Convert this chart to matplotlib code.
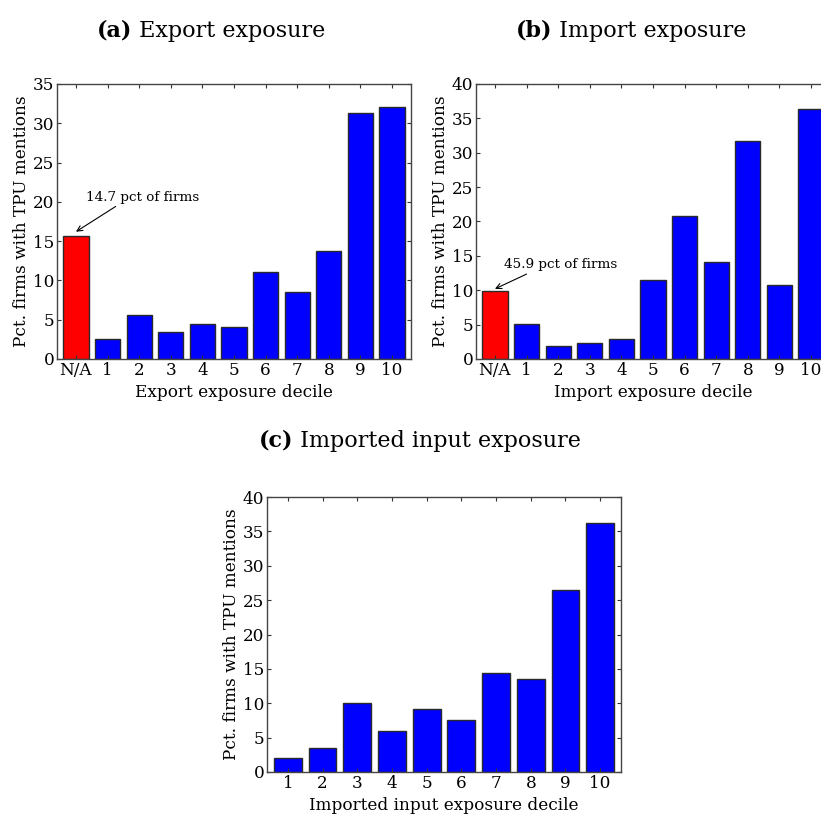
import numpy as np
import matplotlib
matplotlib.use('Agg')
import matplotlib.pyplot as plt

plt.rcParams['font.family'] = ['DejaVu Serif']

# panel (a) export exposure, first bar = N/A
exp_labels = ['N/A', '1', '2', '3', '4', '5', '6', '7', '8', '9', '10']
exp_vals = [15.7, 2.6, 5.6, 3.4, 4.4, 4.1, 11.1, 8.5, 13.7, 31.3, 32.1]

# panel (b) import exposure
imp_labels = ['N/A', '1', '2', '3', '4', '5', '6', '7', '8', '9', '10']
imp_vals = [9.85, 5.1, 1.9, 2.35, 2.85, 11.55, 20.8, 14.1, 31.7, 10.8, 36.3]

# panel (c) imported input exposure
inp_labels = ['1', '2', '3', '4', '5', '6', '7', '8', '9', '10']
inp_vals = [2.1, 3.45, 10.05, 5.9, 9.1, 7.5, 14.45, 13.6, 26.5, 36.15]

ylab = 'Pct. firms with TPU mentions'
fs = 12.2


def bar_panel(ax, labels, vals, first_red, xlabel, ymax, x0=0):
    x = np.arange(len(vals)) + x0
    cols = ['blue'] * len(vals)
    if first_red:
        cols[0] = 'red'
    ax.bar(x, vals, width=0.8, color=cols, edgecolor='#2a2a2a', linewidth=1.0)
    ax.set_xlim(x[0] - 0.6, x[-1] + 0.6)
    ax.set_ylim(0, ymax)
    ax.set_xticks(x)
    ax.set_xticklabels(labels, fontsize=fs)
    ax.set_yticks(np.arange(0, ymax + 1, 5))
    ax.tick_params(axis='y', labelsize=fs, pad=2)
    ax.tick_params(direction='in', top=True, right=True, length=3, width=0.8, color='#333333')
    ax.tick_params(axis='x', pad=2)
    ax.set_xlabel(xlabel, fontsize=fs, labelpad=4)
    ax.set_ylabel(ylab, fontsize=fs, labelpad=2)
    for s in ax.spines.values():
        s.set_color('#444444')
        s.set_linewidth(1.0)


fig = plt.figure(figsize=(8.21, 8.14), dpi=100)

w = 354 / 821
h = 275 / 814
ax1 = fig.add_axes([57 / 821, 1 - 359 / 814, w, h])
ax2 = fig.add_axes([476 / 821, 1 - 359 / 814, w, h])
ax3 = fig.add_axes([267 / 821, 1 - 772 / 814, w, h])

bar_panel(ax1, exp_labels, exp_vals, True, 'Export exposure decile', 35)
bar_panel(ax2, imp_labels, imp_vals, True, 'Import exposure decile', 40)
bar_panel(ax3, inp_labels, inp_vals, False, 'Imported input exposure decile', 40, x0=1)

ax1.annotate('14.7 pct of firms', xy=(0, 16.2), xytext=(0.32, 20.6),
             fontsize=9.7, va='center', ha='left',
             arrowprops=dict(arrowstyle='->', color='black', lw=0.8,
                             shrinkA=0, shrinkB=0, relpos=(0.3, 0)))
ax2.annotate('45.9 pct of firms', xy=(0, 10.2), xytext=(0.29, 13.7),
             fontsize=9.7, va='center', ha='left',
             arrowprops=dict(arrowstyle='->', color='black', lw=0.8,
                             shrinkA=0, shrinkB=0, relpos=(0.25, 0)))

# panel titles: bold tag followed by normal text, centred as a whole
tfs = 16
for xc, yb, tag, txt in [(211, 37, '(a)', ' Export exposure'),
                         (631, 37, '(b)', ' Import exposure'),
                         (420, 447, '(c)', ' Imported input exposure')]:
    t1 = fig.text(0, 1 - yb / 814, tag, fontsize=tfs, fontweight='bold',
                  ha='left', va='baseline')
    t2 = fig.text(0, 1 - yb / 814, txt, fontsize=tfs, ha='left', va='baseline')
    fig.canvas.draw()
    w1 = t1.get_window_extent().width
    w2 = t2.get_window_extent().width
    x0 = xc - (w1 + w2) / 2
    t1.set_x(x0 / 821)
    t2.set_x((x0 + w1) / 821)

fig.savefig('out.png', dpi=100)
